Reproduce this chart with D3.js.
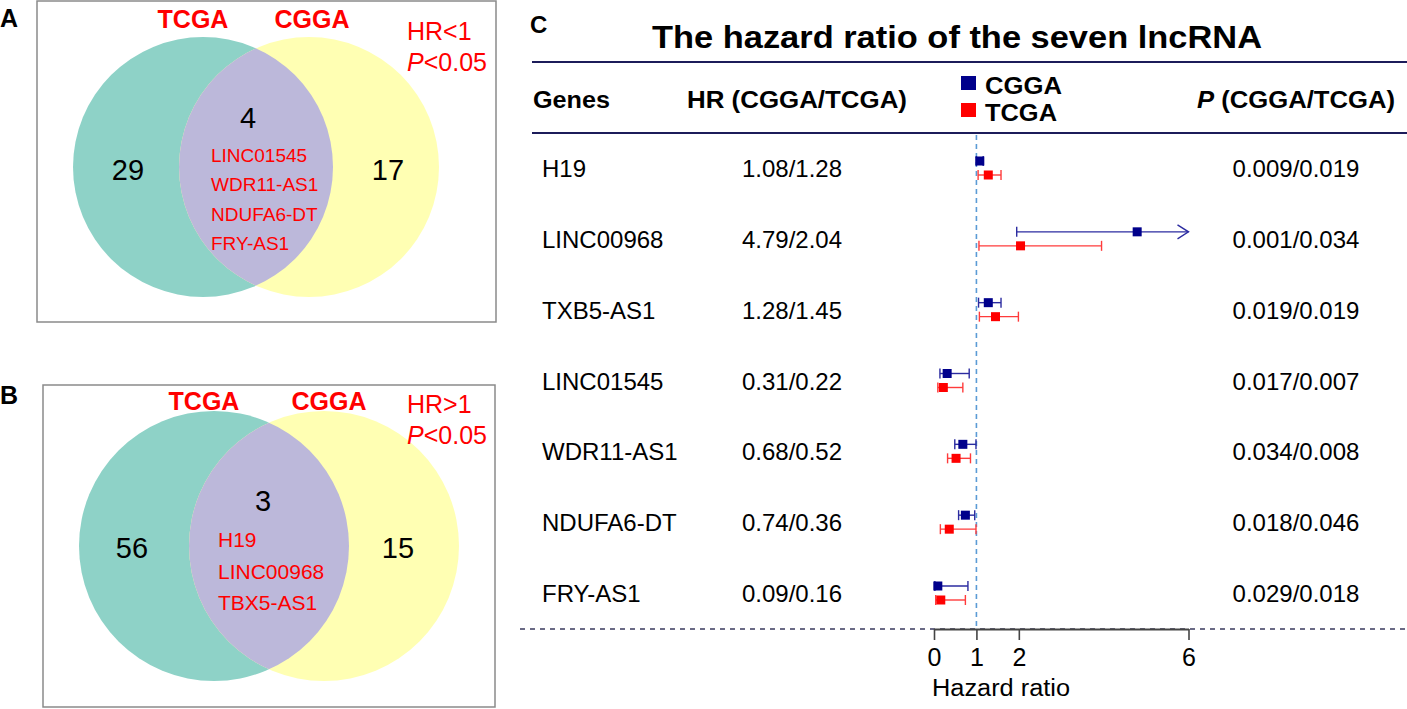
<!DOCTYPE html>
<html>
<head>
<meta charset="utf-8">
<script src="https://cdn.jsdelivr.net/npm/d3@7"></script>
<style>
  body { margin: 0; background: #fff; }
  text { font-family: "Liberation Sans", Arial, sans-serif; }
</style>
</head>
<body>
<div id="chart"></div>
<script>
// ---- data ----
const genes = ["H19", "LINC00968", "TXB5-AS1", "LINC01545", "WDR11-AS1", "NDUFA6-DT", "FRY-AS1"]
const hrLabels = ["1.08/1.28", "4.79/2.04", "1.28/1.45", "0.31/0.22", "0.68/0.52", "0.74/0.36", "0.09/0.16"]
const pLabels = ["0.009/0.019", "0.001/0.034", "0.019/0.019", "0.017/0.007", "0.034/0.008", "0.018/0.046", "0.029/0.018"]
const cggaHR = [1.08, 4.79, 1.28, 0.31, 0.68, 0.74, 0.09]
const cggaLow = [1.00, 1.95, 1.05, 0.14, 0.49, 0.58, 0.02]
const cggaHigh = [1.16, 6.00, 1.58, 0.83, 0.99, 0.96, 0.80]
const cggaTruncated = [false, true, false, false, false, false, false]
const tcgaHR = [1.28, 2.04, 1.45, 0.22, 0.52, 0.36, 0.16]
const tcgaLow = [1.04, 1.06, 1.07, 0.09, 0.32, 0.15, 0.04]
const tcgaHigh = [1.58, 3.95, 1.99, 0.68, 0.86, 0.99, 0.74]
const axisTicks = [0, 1, 2, 6]

const vennSets = ["TCGA", "CGGA"]
const vennCountsA = [29, 4, 17]
const vennGenesA = ["LINC01545", "WDR11-AS1", "NDUFA6-DT", "FRY-AS1"]
const vennCountsB = [56, 3, 15]
const vennGenesB = ["H19", "LINC00968", "TBX5-AS1"]

const NAVY = "#00008b"
const RED = "#ff0000"

const svg = d3.select("#chart").append("svg")
    .attr("width", 1407)
    .attr("height", 709)

// ---- Venn panels ----
function venn(o) {
    const g = svg.append("g")
    g.append("rect")
        .attr("x", o.box[0]).attr("y", o.box[1])
        .attr("width", o.box[2]).attr("height", o.box[3])
        .attr("fill", "none").attr("stroke", "#8a8a8a").attr("stroke-width", 1.5)

    g.append("circle").attr("cx", o.cx[0]).attr("cy", o.cy).attr("r", o.r).attr("fill", "#8ed2c7")
    g.append("circle").attr("cx", o.cx[1]).attr("cy", o.cy).attr("r", o.r).attr("fill", "#ffffb3")
    g.append("clipPath").attr("id", o.id)
        .append("circle").attr("cx", o.cx[0]).attr("cy", o.cy).attr("r", o.r)
    g.append("circle").attr("cx", o.cx[1]).attr("cy", o.cy).attr("r", o.r)
        .attr("fill", "#bcb8da").attr("clip-path", `url(#${o.id})`)

    g.append("text").attr("x", 0).attr("y", o.letterY)
        .attr("font-size", 25).attr("font-weight", "bold").text(o.letter)

    g.selectAll("text.set").data(vennSets).enter().append("text")
        .attr("class", "set")
        .attr("x", (d, i) => o.setX[i]).attr("y", o.setY)
        .attr("text-anchor", "middle").attr("font-size", 25).attr("font-weight", "bold")
        .attr("fill", RED).text(d => d)

    g.append("text").attr("x", o.critX).attr("y", o.critY)
        .attr("font-size", 25).attr("fill", RED).text(o.crit)
    const p = g.append("text").attr("x", o.critX).attr("y", o.critY + 31)
        .attr("font-size", 25).attr("fill", RED)
    p.append("tspan").attr("font-style", "italic").text("P")
    p.append("tspan").text("<0.05")

    g.selectAll("text.count").data(o.counts).enter().append("text")
        .attr("class", "count")
        .attr("x", (d, i) => o.countX[i])
        .attr("y", (d, i) => i === 1 ? o.midY : o.sideY)
        .attr("text-anchor", "middle").attr("font-size", 29).text(d => d)

    g.selectAll("text.gene").data(o.genes).enter().append("text")
        .attr("class", "gene")
        .attr("x", o.geneX).attr("y", (d, i) => o.geneY + i * o.geneStep)
        .attr("font-size", o.geneSize).attr("fill", RED).text(d => d)
}

venn({
    id: "clipA", letter: "A", letterY: 27, box: [37, 1, 459, 321], cx: [203, 309], cy: 167, r: 130,
    setX: [193, 312], setY: 28, crit: "HR<1", critX: 407, critY: 40,
    counts: vennCountsA, countX: [128, 248, 388], midY: 128, sideY: 180,
    genes: vennGenesA, geneX: 211, geneY: 162, geneStep: 29.3, geneSize: 19
})
venn({
    id: "clipB", letter: "B", letterY: 404, box: [43, 385, 452, 322], cx: [214, 324], cy: 546, r: 135,
    setX: [204, 329], setY: 410, crit: "HR>1", critX: 407, critY: 413,
    counts: vennCountsB, countX: [132, 263, 398], midY: 511, sideY: 558,
    genes: vennGenesB, geneX: 218, geneY: 547, geneStep: 31.5, geneSize: 21
})

// ---- Forest plot (panel C) ----
const x = d3.scaleLinear().domain([0, 6]).range([934, 1188.5])
const y = d3.scalePoint().domain(genes).range([168, 593])
const off = 7

const c = svg.append("g")
c.append("text").attr("x", 530).attr("y", 33)
    .attr("font-size", 24).attr("font-weight", "bold").text("C")
c.append("text").attr("x", 652).attr("y", 48)
    .attr("font-size", 32).attr("font-weight", "bold")
    .attr("textLength", 610).attr("lengthAdjust", "spacingAndGlyphs")
    .text("The hazard ratio of the seven lncRNA")

c.append("line").attr("x1", 532).attr("x2", 1407).attr("y1", 62).attr("y2", 62)
    .attr("stroke", "#1c1c5a").attr("stroke-width", 2)
c.append("line").attr("x1", 532).attr("x2", 1407).attr("y1", 133).attr("y2", 133)
    .attr("stroke", "#1c1c5a").attr("stroke-width", 2)

c.append("text").attr("x", 533).attr("y", 108)
    .attr("font-size", 23).attr("font-weight", "bold")
    .attr("textLength", 77).attr("lengthAdjust", "spacingAndGlyphs").text("Genes")
c.append("text").attr("x", 687).attr("y", 108)
    .attr("font-size", 23).attr("font-weight", "bold")
    .attr("textLength", 220).attr("lengthAdjust", "spacingAndGlyphs").text("HR (CGGA/TCGA)")
const ph = c.append("text").attr("x", 1197).attr("y", 108)
    .attr("font-size", 23).attr("font-weight", "bold")
    .attr("textLength", 198).attr("lengthAdjust", "spacingAndGlyphs")
ph.append("tspan").attr("font-style", "italic").text("P")
ph.append("tspan").text(" (CGGA/TCGA)")

// legend
const legend = [["CGGA", NAVY, 76, 93.5, 77], ["TCGA", RED, 103, 121, 72]]
legend.forEach(d => {
    c.append("rect").attr("x", 961).attr("y", d[2]).attr("width", 15).attr("height", 14).attr("fill", d[1])
    c.append("text").attr("x", 985).attr("y", d[3])
        .attr("font-size", 24).attr("font-weight", "bold")
        .attr("textLength", d[4]).attr("lengthAdjust", "spacingAndGlyphs").text(d[0])
})

// reference line at HR = 1
c.append("line").attr("x1", x(1)).attr("x2", x(1)).attr("y1", 135).attr("y2", 629)
    .attr("stroke", "#5b9bd5").attr("stroke-width", 1.6).attr("stroke-dasharray", "5,4")

// table columns
c.selectAll("text.gene").data(genes).enter().append("text")
    .attr("x", 542).attr("y", d => y(d) + 9)
    .attr("font-size", 24).text(d => d)
c.selectAll("text.hr").data(hrLabels).enter().append("text")
    .attr("x", 792).attr("y", (d, i) => y(genes[i]) + 9)
    .attr("text-anchor", "middle").attr("font-size", 24).text(d => d)
c.selectAll("text.p").data(pLabels).enter().append("text")
    .attr("x", 1296).attr("y", (d, i) => y(genes[i]) + 9)
    .attr("text-anchor", "middle").attr("font-size", 24).text(d => d)

// error bars
function series(hr, lo, hi, trunc, dy, color, lineColor, size) {
    const rows = genes.map((gname, i) => ({ g: gname, hr: hr[i], lo: lo[i], hi: hi[i], t: trunc ? trunc[i] : false }))
    const s = c.append("g")
    rows.forEach(d => {
        const yy = y(d.g) + dy
        s.append("line").attr("x1", x(d.lo)).attr("x2", x(d.hi)).attr("y1", yy).attr("y2", yy)
            .attr("stroke", lineColor).attr("stroke-width", 1.4)
        s.append("line").attr("x1", x(d.lo)).attr("x2", x(d.lo)).attr("y1", yy - 5).attr("y2", yy + 5)
            .attr("stroke", lineColor).attr("stroke-width", 1.4)
        if (d.t) {
            s.append("path")
                .attr("d", `M${x(d.hi) - 11},${yy - 7}L${x(d.hi)},${yy}L${x(d.hi) - 11},${yy + 7}`)
                .attr("fill", "none").attr("stroke", lineColor).attr("stroke-width", 1.4)
        } else {
            s.append("line").attr("x1", x(d.hi)).attr("x2", x(d.hi)).attr("y1", yy - 5).attr("y2", yy + 5)
                .attr("stroke", lineColor).attr("stroke-width", 1.4)
        }
        s.append("rect")
            .attr("x", x(d.hr) - size / 2).attr("y", yy - size / 2)
            .attr("width", size).attr("height", size).attr("fill", color)
    })
}
series(cggaHR, cggaLow, cggaHigh, cggaTruncated, -off, NAVY, "#2b2ba0", 9)
series(tcgaHR, tcgaLow, tcgaHigh, null, off, RED, "#ff3b3b", 9)

// bottom dashed rule + axis
c.append("line").attr("x1", 520).attr("x2", 1407).attr("y1", 629).attr("y2", 629)
    .attr("stroke", "#3a3a5e").attr("stroke-width", 1.6).attr("stroke-dasharray", "5,5")

const xAxis = c.append("g")
    .attr("transform", "translate(0,629)")
    .call(d3.axisBottom(x).tickValues(axisTicks).tickFormat(d3.format("d"))
        .tickSize(11).tickSizeOuter(0).tickPadding(8))
xAxis.select(".domain").attr("stroke", "#444").attr("stroke-width", 1.8)
xAxis.selectAll(".tick line").attr("stroke", "#444").attr("stroke-width", 1.6)
xAxis.selectAll(".tick text").attr("font-size", 25).attr("fill", "#000")
    .attr("font-family", "Liberation Sans, Arial, sans-serif")

c.append("text").attr("x", 1001).attr("y", 696)
    .attr("text-anchor", "middle").attr("font-size", 23)
    .attr("textLength", 138).attr("lengthAdjust", "spacingAndGlyphs")
    .text("Hazard ratio")
</script>
</body>
</html>
